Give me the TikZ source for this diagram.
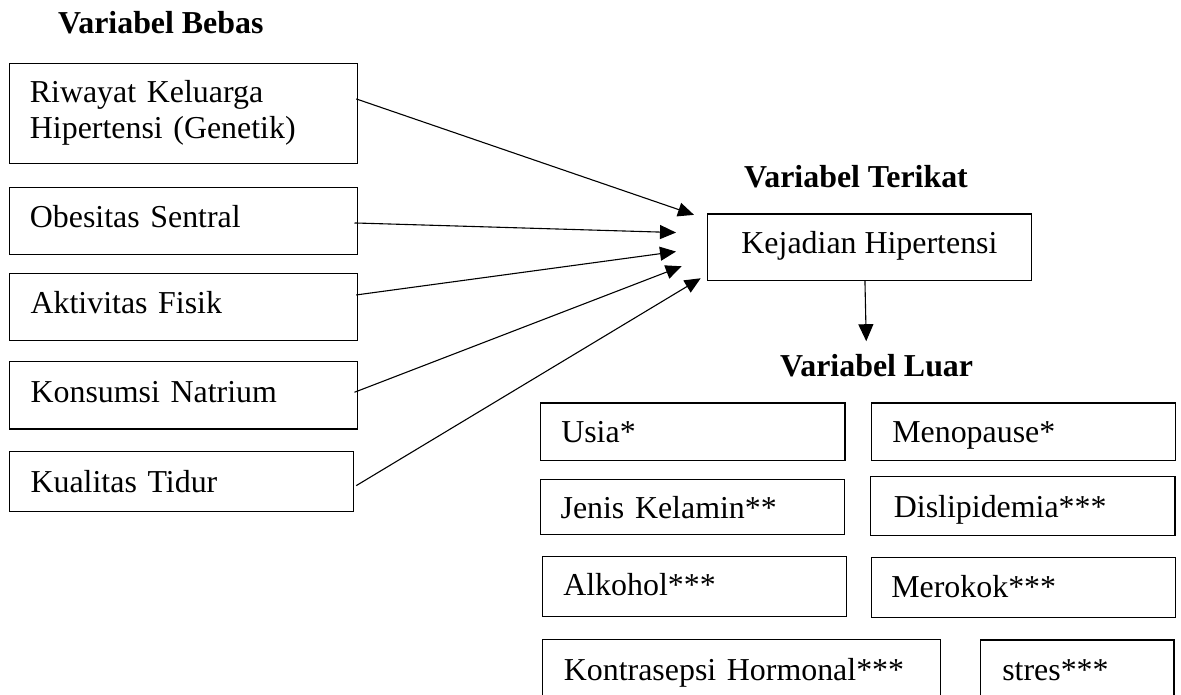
\documentclass[tikz,border=0pt]{standalone}
\usepackage{fontspec}
\setmainfont{Liberation Serif}
\usetikzlibrary{arrows.meta}
\tikzset{
  fnt/.style={font=\fontsize{31.9pt}{36.4pt}\selectfont},
  box/.style={draw, line width=1.2pt, rectangle, anchor=north west, inner ysep=0pt, align=left, fnt, text height=24pt},
  ttl/.style={anchor=base west, inner sep=0pt, font=\fontsize{31.9pt}{36.4pt}\selectfont\bfseries},
  arr/.style={line width=1.1pt, -{Triangle[length=16pt,width=14pt]}}
}
\begin{document}
\begin{tikzpicture}[x=1pt,y=-1pt]
\useasboundingbox (0,0) rectangle (1181,694);
\clip (0,0) rectangle (1181,694);

% titles
\node[ttl] (tb) at (58,33.3) {Variabel Bebas};
\node[ttl] (tt) at (744,187.3) {Variabel Terikat};
\node[ttl] (tl) at (780,376.7) {Variabel Luar};

% left boxes
\node[box, minimum width=348pt, minimum height=100pt, inner xsep=20.3pt, text width=307.4pt, text depth=46pt] (b1) at (9,62.7) {Riwayat Keluarga\\Hipertensi (Genetik)};
\node[box, minimum width=348pt, minimum height=67.3pt, inner xsep=20.3pt, text width=307.4pt, text depth=11.3pt] (b2) at (9,186.7) {Obesitas Sentral};
\node[box, minimum width=348pt, minimum height=67.3pt, inner xsep=21pt, text width=306pt, text depth=11.3pt] (b3) at (9,272.7) {Aktivitas Fisik};
\node[box, minimum width=348pt, minimum height=67.3pt, inner xsep=21pt, text width=306pt, text depth=10pt] (b4) at (9,361) {Konsumsi Natrium};
\node[box, minimum width=343.7pt, minimum height=60.3pt, inner xsep=21pt, text width=301.7pt, text depth=2.2pt] (b5) at (9,450.7) {Kualitas Tidur};

% dependent
\node[draw, line width=1.2pt, rectangle, anchor=north west, inner sep=0pt, fnt, text height=24pt, text depth=10.8pt, minimum width=324.3pt, minimum height=66.7pt] (kj) at (706.7,213.3) {Kejadian Hipertensi};

% external boxes
\node[box, minimum width=304.3pt, minimum height=57.7pt, inner xsep=20.7pt, text width=262.9pt, text depth=3pt] (u1) at (540,402.3) {Usia*};
\node[box, minimum width=304.3pt, minimum height=57.7pt, inner xsep=21pt, text width=262.3pt, text depth=3pt] (u2) at (870.7,402.3) {Menopause*};
\node[box, minimum width=304pt, minimum height=55pt, inner xsep=20pt, text width=264pt, text depth=0.4pt] (u3) at (540,479) {Jenis Kelamin**};
\node[box, minimum width=304.3pt, minimum height=59.3pt, inner xsep=23.3pt, text width=257.7pt, text depth=1.3pt] (u4) at (870,475.7) {Dislipidemia***};
\node[box, minimum width=304.3pt, minimum height=60pt, inner xsep=21pt, text width=262.3pt, text depth=5.4pt] (u5) at (541.7,555.7) {Alkohol***};
\node[box, minimum width=304.3pt, minimum height=60pt, inner xsep=20pt, text width=264.3pt, text depth=4pt] (u6) at (870.7,556.7) {Merokok***};
\node[box, minimum width=398.3pt, minimum height=60pt, inner xsep=21.6pt, text width=355.1pt, text depth=2pt] (u7) at (541.7,639) {Kontrasepsi Hormonal***};
\node[box, minimum width=193.3pt, minimum height=60pt, inner xsep=21.7pt, text width=149.9pt, text depth=2.6pt] (u8) at (980,639.3) {stres***};

% arrows
\draw[arr] ([xshift=-2pt,yshift=14.4pt]b1.east) -- ([xshift=-12.7pt,yshift=32.4pt]kj.west);
\draw[arr] ([xshift=-3.7pt,yshift=-2pt]b2.east) -- ([xshift=-30.7pt,yshift=14.7pt]kj.west);
\draw[arr] ([xshift=-2pt,yshift=12pt]b3.east) -- ([xshift=-30.7pt,yshift=-4.3pt]kj.west);
\draw[arr] ([xshift=-3.7pt,yshift=3pt]b4.east) -- ([xshift=-25pt,yshift=-19pt]kj.west);
\draw[arr] ([xshift=2.3pt,yshift=-4.2pt]b5.east) -- ([xshift=-6pt,yshift=-31pt]kj.west);
\draw[line width=1.1pt, -{Triangle[length=17pt,width=15pt]}] ([xshift=-4.5pt]kj.south) -- ([xshift=-3.2pt,yshift=-60pt]kj.south);
\end{tikzpicture}
\end{document}
